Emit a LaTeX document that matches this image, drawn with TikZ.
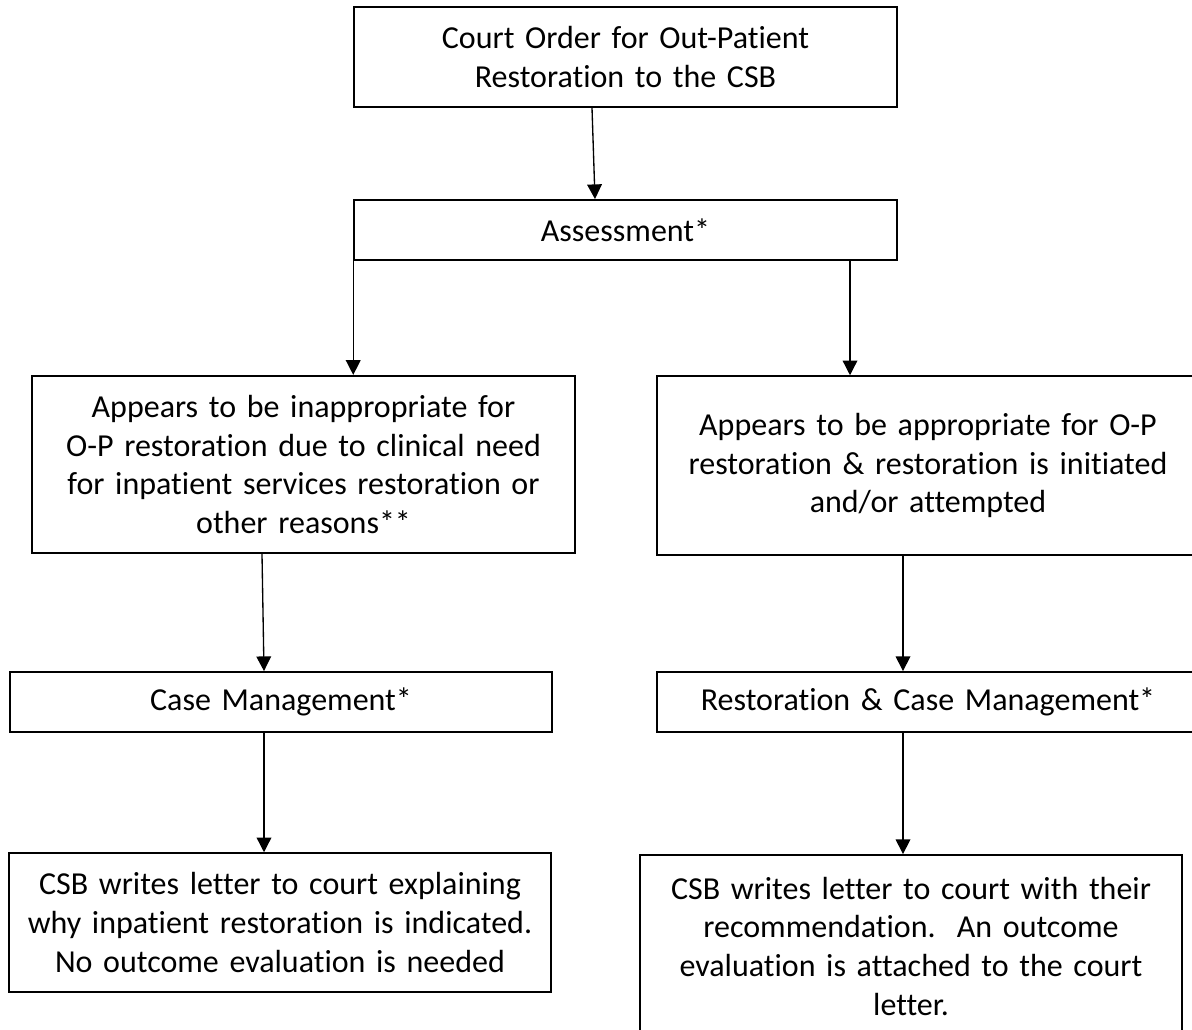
\documentclass[tikz,border=0pt]{standalone}
\usepackage{fontspec}
\setmainfont{Carlito}[Ligatures=NoCommon]
\usetikzlibrary{shapes,arrows.meta,calc}
\tikzstyle{block} = [rectangle, draw, line width=1.4pt, text width=400pt, text centered, minimum width=407pt, inner sep=0pt, font=\fontsize{24}{29}\selectfont]
\tikzstyle{line} = [draw, line width=1pt, -{Triangle[length=11pt,width=11pt]}]

\begin{document}
\begin{tikzpicture}[x=0.75pt, y=-0.75pt]
				    \useasboundingbox (0,0) rectangle (1192,1029);
				    % Place nodes
				    \node [block, minimum height=75pt] (court) at (625.5,57) {Court Order for Out-Patient\\Restoration to the CSB};
				    \node [block, minimum height=45pt] (assess) at (625.5,230) {Assessment*};
				    \node [block, minimum height=133pt] (inapp) at (303.5,464.5) {Appears to be inappropriate for\\O-P restoration due to clinical need\\for inpatient services restoration or\\other reasons**};
				    \node [block, minimum height=134pt] (appr) at (928,465.5) {Appears to be appropriate for O-P\\restoration \& restoration is initiated\\and/or attempted};
				    \node [block, minimum height=45pt] (casemgmt) at (281,702) {Case Management*};
				    \node [block, minimum height=45pt] (restmgmt) at (928,702) {Restoration \& Case Management*};
				    \node [block, minimum height=104pt] (letterno) at (280,922.5) {CSB writes letter to court explaining\\why inpatient restoration is indicated.\\No outcome evaluation is needed};
				    \node [block, minimum height=136.5pt] (letteryes) at (911,946) {CSB writes letter to court with their\\recommendation.\ \ An outcome\\evaluation is attached to the court\\letter.};
				    \coordinate (assessright) at ($(assess.south)+(224.5,0)$);
				    % Draw edges
				    \path [line] ($(court.south)+(-33.5,0)$) -- ($(assess.north)+(-30.5,0)$);
				    \path [line] (assess.south west) -- (assess.south west |- inapp.north);
				    \path [line] (assessright) -- (assessright |- appr.north);
				    \path [line] ($(inapp.south)+(-41.5,0)$) -- ($(casemgmt.north)+(-17,0)$);
				    \path [line] ($(appr.south)+(-25,0)$) -- ($(restmgmt.north)+(-25,0)$);
				    \path [line] ($(casemgmt.south)+(-17,0)$) -- ($(letterno.north)+(-16,0)$);
				    \path [line] ($(restmgmt.south)+(-25,0)$) -- ($(letteryes.north)+(-8,0)$);
				\end{tikzpicture}
\end{document}
